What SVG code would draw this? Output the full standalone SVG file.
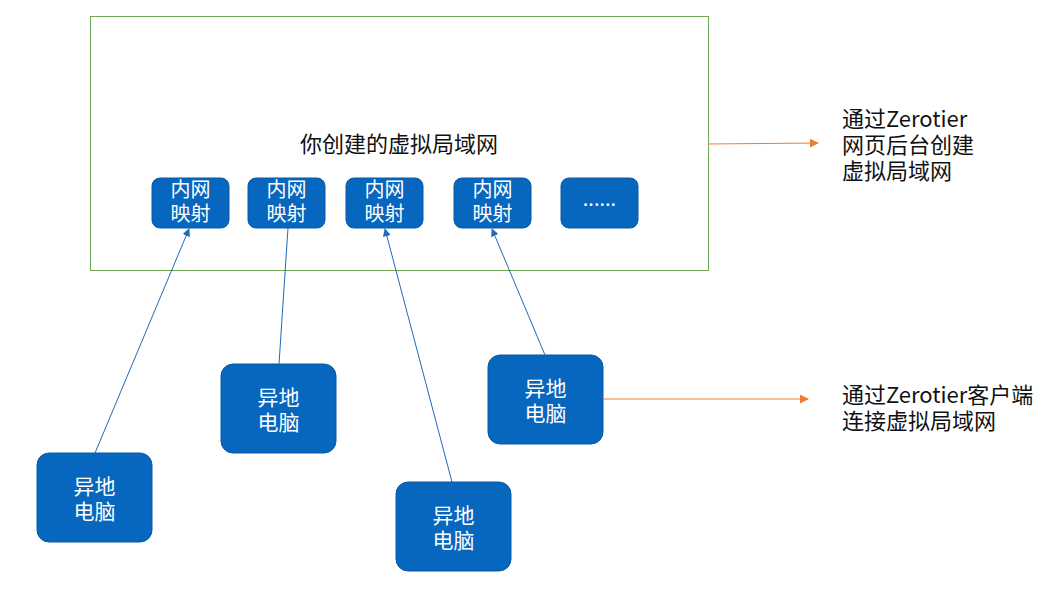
<svg xmlns="http://www.w3.org/2000/svg" width="1061" height="610" viewBox="0 0 1061 610">
<defs>
<style>
.node{fill:#0766BE;stroke:#0B5AA6;stroke-width:1}
.wt{fill:#fff;font-family:"Noto Sans CJK SC","Noto Sans",sans-serif;font-size:20px;text-anchor:middle}
.wl{font-size:21px}
.bt{fill:#111;font-family:"Noto Sans CJK SC","Noto Sans",sans-serif;font-size:22px}
.blue{stroke:#1F6BB8;stroke-width:1;fill:none}
.orange{stroke:#ED7D31;stroke-width:1;fill:none}
</style>
<marker id="ab" viewBox="0 0 10 10" refX="9" refY="5" markerWidth="8" markerHeight="8" orient="auto" markerUnits="userSpaceOnUse"><path d="M0,0 L10,5 L0,10 z" fill="#1F6BB8"/></marker>
<marker id="ao" viewBox="0 0 10 10" refX="9" refY="5" markerWidth="9" markerHeight="9" orient="auto" markerUnits="userSpaceOnUse"><path d="M0,0 L10,5 L0,10 z" fill="#ED7D31"/></marker>
</defs>
<rect width="1061" height="610" fill="#fff"/>
<g id="lan">
<rect x="90.5" y="16.5" width="618" height="254" fill="#fff" stroke="#70A856" stroke-width="1"/>
<text class="bt" x="399" y="152" text-anchor="middle">你创建的虚拟局域网</text>
</g>
<g id="map1"><rect class="node" x="152" y="178" width="77" height="50" rx="8"/><text class="wt" x="190.5" y="197">内网<tspan x="190.5" dy="24">映射</tspan></text></g>
<g id="map2"><rect class="node" x="248" y="178" width="77" height="50" rx="8"/><text class="wt" x="286.5" y="197">内网<tspan x="286.5" dy="24">映射</tspan></text></g>
<g id="map3"><rect class="node" x="346" y="178" width="77" height="50" rx="8"/><text class="wt" x="384.5" y="197">内网<tspan x="384.5" dy="24">映射</tspan></text></g>
<g id="map4"><rect class="node" x="454" y="178" width="77" height="50" rx="8"/><text class="wt" x="492.5" y="197">内网<tspan x="492.5" dy="24">映射</tspan></text></g>
<g id="map5"><rect class="node" x="561" y="178" width="77" height="50" rx="8"/><text class="wt" x="599.5" y="206">......</text></g>
<g id="pc1"><rect class="node" x="37" y="453" width="115" height="89" rx="12"/><text class="wt wl" x="94.5" y="494">异地<tspan x="94.5" dy="25">电脑</tspan></text></g>
<g id="pc2"><rect class="node" x="221" y="364" width="115" height="89" rx="12"/><text class="wt wl" x="278.5" y="405">异地<tspan x="278.5" dy="25">电脑</tspan></text></g>
<g id="pc3"><rect class="node" x="396" y="482" width="115" height="89" rx="12"/><text class="wt wl" x="453.5" y="523">异地<tspan x="453.5" dy="25">电脑</tspan></text></g>
<g id="pc4"><rect class="node" x="488" y="355" width="115" height="89" rx="12"/><text class="wt wl" x="545.5" y="396">异地<tspan x="545.5" dy="25">电脑</tspan></text></g>
<g id="note1"><text class="bt" x="842" y="127">通过Zerotier<tspan x="842" dy="26">网页后台创建</tspan><tspan x="842" dy="26">虚拟局域网</tspan></text></g>
<g id="note2"><text class="bt" x="842" y="403">通过Zerotier客户端<tspan x="842" dy="26">连接虚拟局域网</tspan></text></g>
<g id="connectors">
<line class="blue" x1="95" y1="453" x2="189" y2="229" marker-end="url(#ab)"/>
<line class="blue" x1="279" y1="364" x2="288" y2="228"/>
<line class="blue" x1="452" y1="482" x2="385" y2="229" marker-end="url(#ab)"/>
<line class="blue" x1="545" y1="355" x2="492" y2="229" marker-end="url(#ab)"/>
<line class="orange" x1="708" y1="144" x2="818" y2="143" marker-end="url(#ao)"/>
<line class="orange" x1="603" y1="399" x2="808" y2="399" marker-end="url(#ao)"/>
</g>
</svg>
